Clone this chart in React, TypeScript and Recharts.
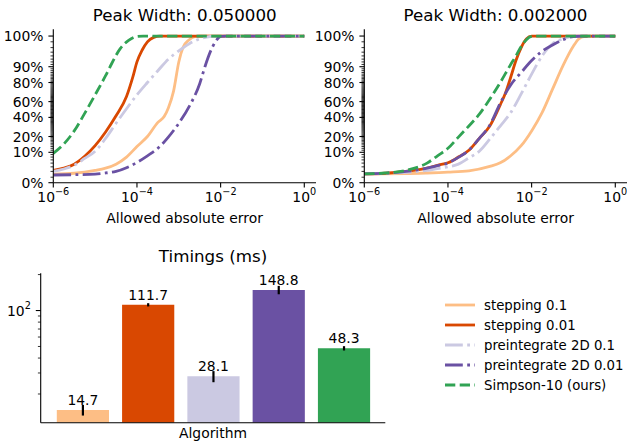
import React from 'react'
import {
  LineChart, Line, XAxis, YAxis, BarChart, Bar, Cell, ErrorBar, LabelList, Legend,
} from 'recharts'

const FONT = '"DejaVu Sans", sans-serif'

// series names / colours, shared by the line charts, bars and legend
const NAMES = ['stepping 0.1', 'stepping 0.01', 'preintegrate 2D 0.1', 'preintegrate 2D 0.01', 'Simpson-10 (ours)']
const COLORS = ['#fdbe85', '#d94801', '#cbc9e2', '#6a51a3', '#31a354']
const DASHES = [undefined, undefined, '17.8 4.4 2.8 4.4', '17.8 4.4 2.8 4.4', '10.3 4.4']

// [log10(allowed error), % of pixels]  -- peak width 0.05
const L_STEP_01 = [[-6, 3.5], [-5.5, 3.65], [-5, 4.2], [-4.75, 4.7], [-4.5, 5.7], [-4.25, 8], [-4, 13], [-3.75, 20], [-3.5, 34], [-3.35, 41], [-3.25, 52], [-3.125, 72], [-3, 92], [-2.9, 96], [-2.75, 97.3], [-2.6, 97.7], [-2.5, 100], [0, 100]]
const L_STEP_001 = [[-6, 4.2], [-5.75, 4.7], [-5.5, 5.7], [-5.25, 8.3], [-5, 13.5], [-4.75, 24], [-4.5, 42], [-4.25, 66], [-4.1, 84], [-4, 92], [-3.875, 95.5], [-3.75, 97], [-3.6, 97.6], [-3.45, 100], [0, 100]]
const L_PRE_01 = [[-6, 4], [-5.75, 4.5], [-5.5, 5.4], [-5.25, 7.5], [-5, 10.5], [-4.75, 18.5], [-4.5, 33], [-4.25, 51], [-4, 68], [-3.75, 80], [-3.5, 88], [-3.25, 93], [-3, 95.3], [-2.75, 96.7], [-2.5, 97.4], [-2.25, 97.7], [-2, 100], [0, 100]]
const L_PRE_001 = [[-6, 3.35], [-5.5, 3.4], [-5, 3.5], [-4.75, 3.7], [-4.5, 4], [-4.25, 4.8], [-4, 6.2], [-3.75, 8.5], [-3.5, 12], [-3.25, 19.5], [-3, 33], [-2.75, 54], [-2.5, 79], [-2.375, 90], [-2.25, 95], [-2.125, 97], [-2, 97.7], [-1.875, 100], [0, 100]]
const L_SIMPSON = [[-6, 9.5], [-5.75, 14.5], [-5.5, 25], [-5.25, 45], [-5, 68], [-4.75, 85], [-4.6, 91.5], [-4.4, 95.8], [-4.2, 97.2], [-4, 97.7], [-3.85, 100], [0, 100]]

// peak width 0.002
const R_STEP_01 = [[-6, 3.55], [-5, 3.6], [-4.5, 3.7], [-4, 3.85], [-3.5, 4.1], [-3, 5.1], [-2.75, 6.1], [-2.5, 8.5], [-2.25, 13.5], [-2, 25], [-1.75, 46], [-1.5, 74], [-1.25, 90.5], [-1, 96.3], [-0.875, 97.4], [-0.75, 97.7], [-0.5, 100], [0, 100]]
const R_STEP_001 = [[-6, 3.55], [-5.5, 3.65], [-5, 4], [-4.5, 4.7], [-4.25, 5.4], [-4, 6.1], [-3.75, 8], [-3.5, 11], [-3.25, 18.5], [-3, 30], [-2.75, 56], [-2.625, 70], [-2.5, 84], [-2.375, 92.5], [-2.25, 96], [-2.125, 97.4], [-2, 97.8], [-1.875, 100], [0, 100]]
const R_PRE_01 = [[-6, 3.55], [-5, 3.8], [-4.5, 4.2], [-4.25, 4.6], [-4, 5], [-3.75, 5.7], [-3.5, 7.7], [-3.25, 10.5], [-3, 18], [-2.75, 30], [-2.5, 46], [-2.25, 69], [-2, 86], [-1.75, 94], [-1.5, 96.7], [-1.25, 97.4], [-1, 97.8], [-0.75, 100], [0, 100]]
const R_PRE_001 = [[-6, 3.55], [-5.5, 3.65], [-5, 4], [-4.5, 4.7], [-4.25, 5.3], [-4, 6], [-3.75, 7.9], [-3.5, 11], [-3.25, 18.5], [-3, 31], [-2.75, 58], [-2.5, 78], [-2.25, 87], [-2, 92.5], [-1.75, 95.2], [-1.5, 96.5], [-1.25, 97.3], [-1, 97.7], [-0.75, 100], [0, 100]]
const R_SIMPSON = [[-6, 3.55], [-5.5, 3.7], [-5, 4.2], [-4.5, 6], [-4.25, 8.5], [-4, 12], [-3.75, 19.5], [-3.5, 30], [-3.25, 44], [-3, 63], [-2.75, 80], [-2.5, 91], [-2.375, 94], [-2.25, 96.2], [-2.125, 97.3], [-2, 97.7], [-1.875, 100], [0, 100]]

const X_TICKS = [-6, -4, -2, 0]
const Y_TICK_PCT = [0, 10, 20, 40, 60, 80, 90, 100]
const Y_TICK_LABELS = ['0%', '10%', '20%', '40%', '60%', '80%', '90%', '100%']

// timings
const TIMINGS = [14.7, 111.7, 28.1, 148.8, 48.3]
const TIMING_ERR = [1.5, 3.5, 3, 12, 2]
const BAR_TICKS = [20, 30, 40, 50, 60, 70, 80, 90, 100, 200]

// logit y scale, clipped like the original plot
const P_LO = 0.0228
const P_HI = 0.9775
const toAxis = (pct: number) => {
  const p = Math.min(Math.max(pct / 100, P_LO), P_HI)
  return Math.log(p / (1 - p))
}
const Y_MIN = toAxis(0)
const Y_MAX = 4.118
const MAJOR_POS = Y_TICK_PCT.map(toAxis)
const MINOR_POS = Array.from({ length: 95 }, (_, i) => i + 3)
  .filter(p => !Y_TICK_PCT.includes(p))
  .map(toAxis)

const PowTick = (props: any) => {
  const { x, y, payload } = props
  const exp = String(payload.value).replace('-', '\u2212')
  return (
    <g>
      <line x1={x} x2={x} y1={y} y2={y + 4.9} stroke="#000" strokeWidth={1.1} />
      <text x={x} y={y + 19} textAnchor="middle" fontSize={13.9} fill="#000" fontFamily={FONT}>
        10<tspan dy={-6.5} fontSize={9.7}>{exp}</tspan>
      </text>
    </g>
  )
}

const LogitTick = (props: any) => {
  const { x, y, payload } = props
  const idx = MAJOR_POS.findIndex(v => Math.abs(v - payload.value) < 1e-9)
  const major = idx >= 0
  return (
    <g>
      <line x1={x - (major ? 4.9 : 2.8)} x2={x} y1={y} y2={y} stroke="#000" strokeWidth={major ? 1.1 : 0.8} />
      {major && (
        <text x={x - 9.8} y={y + 5} textAnchor="end" fontSize={13.9} fill="#000" fontFamily={FONT}>
          {Y_TICK_LABELS[idx]}
        </text>
      )}
    </g>
  )
}

const BarTick = (props: any) => {
  const { x, y, payload } = props
  const major = payload.value === 100
  return (
    <g>
      <line x1={x - (major ? 4.9 : 2.8)} x2={x} y1={y} y2={y} stroke="#000" strokeWidth={major ? 1.1 : 0.8} />
      {major && (
        <text x={x - 9.8} y={y + 5} textAnchor="end" fontSize={13.9} fill="#000" fontFamily={FONT}>
          10<tspan dy={-6.5} fontSize={9.7}>2</tspan>
        </text>
      )}
    </g>
  )
}

const frame = { stroke: '#000', strokeWidth: 1.1 }

function ErrorPanel({ series, left, width, rightMargin }: { series: number[][][]; left: number; width: number; rightMargin: number }) {
  return (
    <div style={{ position: 'absolute', left, top: 0 }}>
      <LineChart width={width} height={230} margin={{ top: 29.3, right: rightMargin, bottom: 7.3, left: 3.3 }}>
        <XAxis
          dataKey="e" type="number" domain={[-6, 0.28]} allowDataOverflow ticks={X_TICKS} interval={0}
          height={40} tickSize={0} tickMargin={0} tickLine={false} tick={<PowTick />} axisLine={frame}
          label={{ value: 'Allowed absolute error', position: 'insideBottom', offset: 0, fill: '#000', fontSize: 13.9, fontFamily: FONT }}
        />
        <YAxis
          type="number" domain={[Y_MIN, Y_MAX]} allowDataOverflow ticks={[...MAJOR_POS, ...MINOR_POS]} interval={0}
          width={50} tickSize={0} tickMargin={0} tickLine={false} tick={<LogitTick />} axisLine={frame}
        />
        <XAxis xAxisId="top" orientation="top" type="number" domain={[0, 1]} height={0} tick={false} tickLine={false} axisLine={frame} />
        <YAxis yAxisId="right" orientation="right" type="number" domain={[0, 1]} width={0} tick={false} tickLine={false} axisLine={frame} />
        {series.map((pts, i) => (
          <Line
            key={NAMES[i]}
            name={NAMES[i]}
            data={pts.map(([e, p]) => ({ e, v: toAxis(p) }))}
            dataKey="v"
            type="monotone"
            stroke={COLORS[i]}
            strokeWidth={2.8}
            strokeDasharray={DASHES[i]}
            dot={false}
            activeDot={false}
            isAnimationActive={false}
          />
        ))}
      </LineChart>
    </div>
  )
}

const LegendBox = () => (
  <svg width={187} height={100} style={{ display: 'block', overflow: 'visible' }}>
    {NAMES.map((n, i) => (
      <g key={n}>
        <line x1={5} x2={35} y1={10 + 20 * i} y2={10 + 20 * i} stroke={COLORS[i]} strokeWidth={2.8} strokeDasharray={DASHES[i]} />
        <text x={44} y={15 + 20 * i} fontSize={13.3} fill="#000" fontFamily={FONT}>{n}</text>
      </g>
    ))}
  </svg>
)

const titleStyle = (center: number, top: number): React.CSSProperties => ({
  position: 'absolute', left: center - 150, top, width: 300, textAlign: 'center',
  fontSize: 16.7, lineHeight: '20px', color: '#000', fontFamily: FONT, whiteSpace: 'nowrap',
})

export default function App() {
  const barRows = NAMES.map((name, i) => ({ name, t: TIMINGS[i], err: TIMING_ERR[i] }))

  return (
    <div style={{ position: 'absolute', left: 0, top: 0, width: 627, height: 444, overflow: 'hidden', background: '#fff', fontFamily: FONT }}>
      <div style={titleStyle(184.7, 5.4)}>Peak Width: 0.050000</div>
      <div style={titleStyle(495.5, 5.4)}>Peak Width: 0.002000</div>
      <div style={titleStyle(213, 245.6)}>Timings (ms)</div>

      <ErrorPanel series={[L_STEP_01, L_STEP_001, L_PRE_01, L_PRE_001, L_SIMPSON]} left={0} width={320} rightMargin={4} />
      <ErrorPanel series={[R_STEP_01, R_STEP_001, R_PRE_01, R_PRE_001, R_SIMPSON]} left={311} width={316} rightMargin={0} />

      <div style={{ position: 'absolute', left: 0, top: 240 }}>
        <BarChart width={627} height={204} data={barRows} margin={{ top: 33.3, right: 241.7, bottom: 5.7, left: 0.7 }}>
          <XAxis
            dataKey="name" type="category" height={15.6} tick={false} tickLine={false}
            padding={{ left: 9.1, right: 9.1 }} axisLine={frame}
            label={{ value: 'Algorithm', position: 'insideBottom', offset: 0, fill: '#000', fontSize: 13.9, fontFamily: FONT }}
          />
          <YAxis
            type="number" scale="log" domain={[11.5, 205]} allowDataOverflow ticks={BAR_TICKS} interval={0}
            width={40} tickSize={0} tickMargin={0} tickLine={false} tick={<BarTick />} axisLine={frame}
          />
          <XAxis xAxisId="top" orientation="top" type="number" domain={[0, 1]} height={0} tick={false} tickLine={false} axisLine={frame} />
          <YAxis yAxisId="right" orientation="right" type="number" domain={[0, 1]} width={0} tick={false} tickLine={false} axisLine={frame} />
          <Bar dataKey="t" barSize={52.2} isAnimationActive={false}>
            {barRows.map((r, i) => <Cell key={r.name} fill={COLORS[i]} />)}
            <ErrorBar dataKey="err" width={0} stroke="#000" strokeWidth={2.2} direction="y" />
            <LabelList dataKey="t" position="top" offset={5} fill="#000" fontSize={13.9} fontFamily={FONT} />
          </Bar>
          <Legend
            layout="vertical" align="center" verticalAlign="middle"
            wrapperStyle={{ left: 440, top: 55, width: 187 }}
            content={() => <LegendBox />}
          />
        </BarChart>
      </div>
    </div>
  )
}
